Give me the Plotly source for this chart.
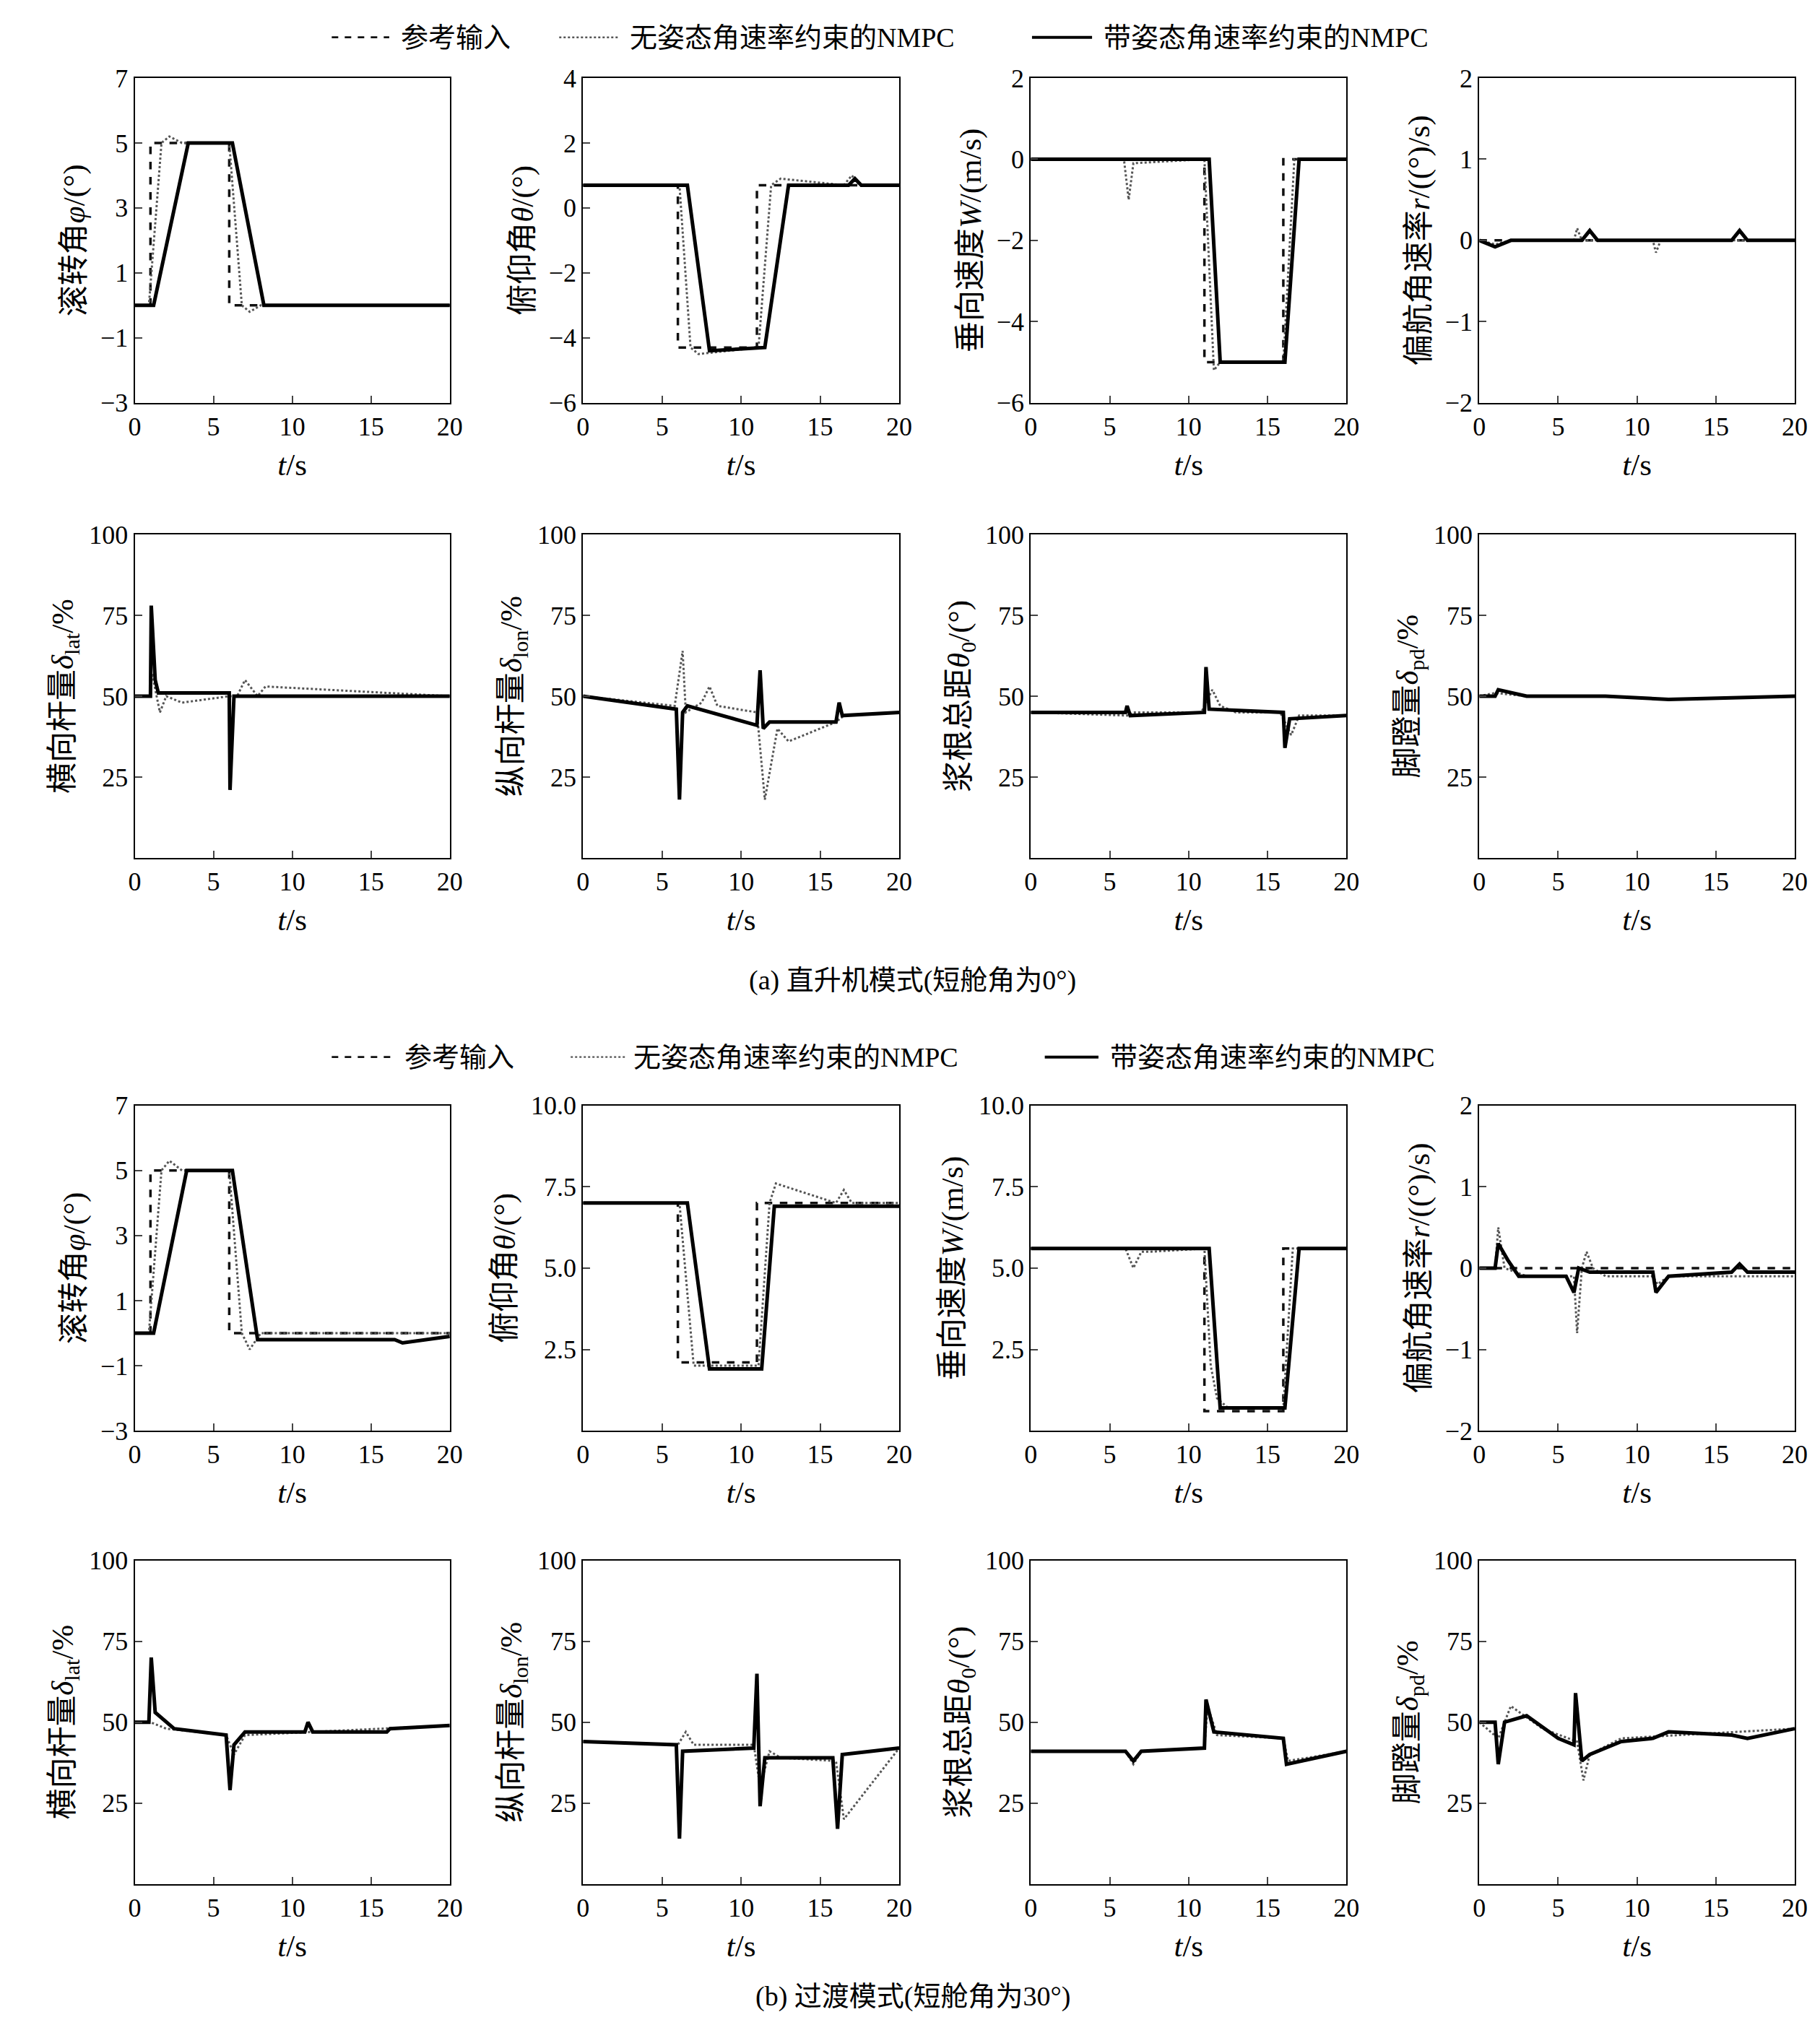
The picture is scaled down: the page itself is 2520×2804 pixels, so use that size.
import plotly.graph_objects as go
from plotly.subplots import make_subplots

# ---- data: breakpoints (t in s) ----
# (a) helicopter mode
a_roll_ref_t = [0, 1, 1, 6, 6, 20];            a_roll_ref = [0, 0, 5, 5, 0, 0]
a_roll_nc_t = [0, 0.9, 1.7, 2.2, 3, 6, 6.8, 7.3, 8, 20]; a_roll_nc = [0, 0, 5, 5.2, 5, 5, 0, -0.2, 0, 0]
a_roll_c_t = [0, 1.2, 3.4, 6.2, 8.2, 20];      a_roll_c = [0, 0, 5, 5, 0, 0]

a_pitch_ref_t = [0, 6, 6, 11, 11, 20];         a_pitch_ref = [0.7, 0.7, -4.3, -4.3, 0.7, 0.7]
a_pitch_nc_t = [0, 6.1, 6.8, 7.3, 11.1, 11.9, 12.5, 16.5, 17, 17.5, 20]
a_pitch_nc = [0.7, 0.7, -4.3, -4.5, -4.3, 0.7, 0.9, 0.7, 1.0, 0.7, 0.7]
a_pitch_c_t = [0, 6.6, 8, 11.5, 13, 16.8, 17.2, 17.6, 20]
a_pitch_c = [0.7, 0.7, -4.4, -4.3, 0.7, 0.7, 0.9, 0.7, 0.7]

a_w_ref_t = [0, 11, 11, 16, 16, 20];           a_w_ref = [0, 0, -5, -5, 0, 0]
a_w_nc_t = [0, 5.9, 6.2, 6.5, 11, 11.6, 12, 16, 16.7, 20]
a_w_nc = [0, 0, -1.0, -0.1, 0, -5.2, -5, -5, 0, 0]
a_w_c_t = [0, 11.3, 12, 16.1, 17, 20];         a_w_c = [0, 0, -5, -5, 0, 0]

a_r_ref_t = [0, 20];                           a_r_ref = [0, 0]
a_r_nc_t = [0, 1, 2, 6, 6.2, 6.5, 11, 11.2, 11.5, 16, 20]
a_r_nc = [0, -0.05, 0, 0, 0.15, 0, 0, -0.15, 0, 0, 0]
a_r_c_t = [0, 1, 2, 6.5, 7, 7.5, 16, 16.5, 17, 20]
a_r_c = [0, -0.08, 0, 0, 0.12, 0, 0, 0.12, 0, 0]

a_lat_nc_t = [0, 1, 1.1, 1.6, 2, 3, 6, 6.5, 7, 7.8, 8.3, 20]
a_lat_nc = [50, 50, 57, 45, 50, 48, 50, 50, 55, 50, 53, 50]
a_lat_c_t = [0, 1, 1.05, 1.3, 1.5, 6, 6.05, 6.2, 6.3, 20]
a_lat_c = [50, 50, 78, 55, 51, 51, 21, 42, 50, 50]

a_lon_nc_t = [0, 5.8, 6.3, 6.5, 7.5, 8, 8.5, 11, 11.5, 12.3, 13, 16, 16.5, 20]
a_lon_nc = [50, 47, 64, 45, 48, 53, 47, 45, 18, 40, 36, 42, 44, 45]
a_lon_c_t = [0, 5.9, 6.1, 6.3, 6.6, 11, 11.2, 11.4, 11.8, 16, 16.2, 16.4, 20]
a_lon_c = [50, 46, 18, 45, 47, 41, 58, 40, 42, 42, 48, 44, 45]

a_col_nc_t = [0, 6.2, 6.5, 10.8, 11.5, 12, 13, 15.8, 16.5, 17, 20]
a_col_nc = [45, 44, 45, 45, 52, 47, 45, 45, 38, 44, 44]
a_col_c_t = [0, 6, 6.1, 6.3, 11, 11.1, 11.3, 16, 16.1, 16.4, 20]
a_col_c = [45, 45, 47, 44, 45, 59, 46, 45, 34, 43, 44]

a_ped_nc_t = [0, 1, 3, 8, 12, 20];             a_ped_nc = [50, 51, 50, 50, 49, 50]
a_ped_c_t = [0, 1, 1.2, 3, 8, 12, 20];         a_ped_c = [50, 50, 52, 50, 50, 49, 50]

# (b) transition mode
b_roll_ref_t = [0, 1, 1, 6, 6, 20];            b_roll_ref = [0, 0, 5, 5, 0, 0]
b_roll_nc_t = [0, 0.9, 1.7, 2.2, 3, 6, 6.8, 7.3, 8, 20]
b_roll_nc = [0, 0, 5, 5.3, 5, 5, 0, -0.5, 0, 0]
b_roll_c_t = [0, 1.2, 3.3, 6.2, 7.8, 16.5, 17, 20]
b_roll_c = [0, 0, 5, 5, -0.2, -0.2, -0.3, -0.1]

b_pitch_ref_t = [0, 6, 6, 11, 11, 20];         b_pitch_ref = [7, 7, 2.1, 2.1, 7, 7]
b_pitch_nc_t = [0, 6.1, 7, 11.1, 11.8, 12.2, 16, 16.5, 17, 20]
b_pitch_nc = [7, 7, 2, 2, 7, 7.6, 7, 7.4, 7, 7]
b_pitch_c_t = [0, 6.6, 8, 11.3, 12.1, 20];     b_pitch_c = [7, 7, 1.9, 1.9, 6.9, 6.9]

b_w_ref_t = [0, 11, 11, 16, 16, 20];           b_w_ref = [5.6, 5.6, 0.6, 0.6, 5.6, 5.6]
b_w_nc_t = [0, 6, 6.5, 7, 7.5, 11, 11.4, 11.8, 12.5, 16, 16.6, 20]
b_w_nc = [5.6, 5.6, 5, 5.5, 5.5, 5.6, 2, 1, 0.7, 0.7, 5.6, 5.6]
b_w_c_t = [0, 11.3, 12, 16.1, 17, 20];         b_w_c = [5.6, 5.6, 0.7, 0.7, 5.6, 5.6]

b_r_ref_t = [0, 20];                           b_r_ref = [0, 0]
b_r_nc_t = [0, 1, 1.2, 1.6, 3, 6, 6.2, 6.5, 6.8, 7.2, 8, 11, 11.3, 12, 20]
b_r_nc = [0, 0, 0.5, 0, -0.1, -0.1, -0.8, 0, 0.2, 0, -0.1, -0.1, -0.2, -0.1, -0.1]
b_r_c_t = [0, 1, 1.2, 1.8, 2.5, 5.5, 6, 6.3, 7, 11, 11.2, 12, 16, 16.5, 17, 20]
b_r_c = [0, 0, 0.3, 0.1, -0.1, -0.1, -0.3, 0, -0.05, -0.05, -0.3, -0.1, -0.05, 0.05, -0.05, -0.05]

b_lat_nc_t = [0, 1, 2, 5.8, 6.3, 7, 20];       b_lat_nc = [50, 50, 48, 46, 40, 46, 49]
b_lat_c_t = [0, 0.9, 1.05, 1.3, 2.5, 5.8, 6.05, 6.3, 7, 10.8, 11, 11.3, 16, 16.2, 20]
b_lat_c = [50, 50, 70, 53, 48, 46, 29, 43, 47, 47, 50, 47, 47, 48, 49]

b_lon_nc_t = [0, 6, 6.5, 7, 10.8, 11.2, 11.8, 12.5, 16, 16.5, 20]
b_lon_nc = [44, 43, 47, 43, 43, 30, 41, 39, 38, 20, 42]
b_lon_c_t = [0, 5.9, 6.1, 6.3, 10.8, 11, 11.2, 11.5, 15.8, 16.1, 16.4, 20]
b_lon_c = [44, 43, 14, 41, 42, 65, 24, 39, 39, 17, 40, 42]

b_col_nc_t = [0, 6, 6.5, 7, 11, 11.2, 11.8, 16, 16.3, 20]
b_col_nc = [41, 41, 37, 41, 42, 55, 46, 45, 38, 41]
b_col_c_t = [0, 6, 6.5, 7, 11, 11.1, 11.6, 16, 16.2, 20]
b_col_c = [41, 41, 38, 41, 42, 57, 47, 45, 37, 41]

b_ped_nc_t = [0, 1.2, 2, 4, 6.2, 6.6, 7, 9, 20]
b_ped_nc = [50, 45, 55, 48, 44, 32, 40, 45, 48]
b_ped_c_t = [0, 1, 1.2, 1.6, 3, 5, 6, 6.1, 6.5, 7, 9, 11, 12, 16, 17, 20]
b_ped_c = [50, 50, 37, 50, 52, 45, 43, 59, 38, 40, 44, 45, 47, 46, 45, 48]

ylabels_state = ["滚转角<i>φ</i>/(°)", "俯仰角<i>θ</i>/(°)", "垂向速度<i>W</i>/(m/s)", "偏航角速率<i>r</i>/((°)/s)"]
ylabels_ctrl = ["横向杆量<i>δ</i><sub>lat</sub>/%", "纵向杆量<i>δ</i><sub>lon</sub>/%",
                "浆根总距<i>θ</i><sub>0</sub>/(°)", "脚蹬量<i>δ</i><sub>pd</sub>/%"]
legend_names = ["参考输入", "无姿态角速率约束的NMPC", "带姿态角速率约束的NMPC"]

panels = [
    (1, 1, [(a_roll_ref_t, a_roll_ref), (a_roll_nc_t, a_roll_nc), (a_roll_c_t, a_roll_c)], [-3, 7], [-3, -1, 1, 3, 5, 7], None),
    (1, 2, [(a_pitch_ref_t, a_pitch_ref), (a_pitch_nc_t, a_pitch_nc), (a_pitch_c_t, a_pitch_c)], [-6, 4], [-6, -4, -2, 0, 2, 4], None),
    (1, 3, [(a_w_ref_t, a_w_ref), (a_w_nc_t, a_w_nc), (a_w_c_t, a_w_c)], [-6, 2], [-6, -4, -2, 0, 2], None),
    (1, 4, [(a_r_ref_t, a_r_ref), (a_r_nc_t, a_r_nc), (a_r_c_t, a_r_c)], [-2, 2], [-2, -1, 0, 1, 2], None),
    (2, 1, [None, (a_lat_nc_t, a_lat_nc), (a_lat_c_t, a_lat_c)], [0, 100], [25, 50, 75, 100], None),
    (2, 2, [None, (a_lon_nc_t, a_lon_nc), (a_lon_c_t, a_lon_c)], [0, 100], [25, 50, 75, 100], None),
    (2, 3, [None, (a_col_nc_t, a_col_nc), (a_col_c_t, a_col_c)], [0, 100], [25, 50, 75, 100], None),
    (2, 4, [None, (a_ped_nc_t, a_ped_nc), (a_ped_c_t, a_ped_c)], [0, 100], [25, 50, 75, 100], None),
    (3, 1, [(b_roll_ref_t, b_roll_ref), (b_roll_nc_t, b_roll_nc), (b_roll_c_t, b_roll_c)], [-3, 7], [-3, -1, 1, 3, 5, 7], None),
    (3, 2, [(b_pitch_ref_t, b_pitch_ref), (b_pitch_nc_t, b_pitch_nc), (b_pitch_c_t, b_pitch_c)], [0, 10], [2.5, 5, 7.5, 10], ["2.5", "5.0", "7.5", "10.0"]),
    (3, 3, [(b_w_ref_t, b_w_ref), (b_w_nc_t, b_w_nc), (b_w_c_t, b_w_c)], [0, 10], [2.5, 5, 7.5, 10], ["2.5", "5.0", "7.5", "10.0"]),
    (3, 4, [(b_r_ref_t, b_r_ref), (b_r_nc_t, b_r_nc), (b_r_c_t, b_r_c)], [-2, 2], [-2, -1, 0, 1, 2], None),
    (4, 1, [None, (b_lat_nc_t, b_lat_nc), (b_lat_c_t, b_lat_c)], [0, 100], [25, 50, 75, 100], None),
    (4, 2, [None, (b_lon_nc_t, b_lon_nc), (b_lon_c_t, b_lon_c)], [0, 100], [25, 50, 75, 100], None),
    (4, 3, [None, (b_col_nc_t, b_col_nc), (b_col_c_t, b_col_c)], [0, 100], [25, 50, 75, 100], None),
    (4, 4, [None, (b_ped_nc_t, b_ped_nc), (b_ped_c_t, b_ped_c)], [0, 100], [25, 50, 75, 100], None),
]

FONT = "Liberation Serif, Noto Sans CJK SC"
FS = 36
styles = [dict(color="#111", width=3.5, dash="dash"),
          dict(color="#555", width=3, dash="dot"),
          dict(color="#000", width=5, dash="solid")]

fig = make_subplots(rows=4, cols=4)

xdom = [(0.068, 0.243), (0.317, 0.4926), (0.5657, 0.741), (0.8148, 0.990)]
ydom = [(0.808, 0.9707), (0.580, 0.742), (0.293, 0.456), (0.066, 0.228)]

for r, c, series, yr, tv, tt in panels:
    for k, s in enumerate(series):
        if s is None:
            continue
        fig.add_trace(go.Scatter(x=s[0], y=s[1], mode="lines", line=styles[k],
                                 showlegend=False), row=r, col=c)
    ylab = ylabels_state[c - 1] if r in (1, 3) else ylabels_ctrl[c - 1]
    fig.update_xaxes(row=r, col=c, domain=xdom[c - 1], range=[0, 20], tickvals=[0, 5, 10, 15, 20],
                     title=dict(text="<i>t</i>/s", standoff=18), showgrid=False, zeroline=False)
    fig.update_yaxes(row=r, col=c, domain=ydom[r - 1], range=yr, tickvals=tv, ticktext=tt,
                     title=dict(text=ylab, standoff=8), showgrid=False, zeroline=False)

fig.update_xaxes(showline=True, mirror=True, linecolor="black", linewidth=2, ticks="inside",
                 ticklen=10, tickwidth=2, tickfont=dict(size=FS))
fig.update_yaxes(showline=True, mirror=True, linecolor="black", linewidth=2, ticks="inside",
                 ticklen=10, tickwidth=2, tickfont=dict(size=FS))

W, H = 2520, 2804
def add_legend(ypix, segs):
    for k, (x0, x1, xt) in enumerate(segs):
        fig.add_shape(type="line", xref="paper", yref="paper", x0=x0 / 1409, x1=x1 / 1409,
                      y0=1 - ypix / 1568, y1=1 - ypix / 1568,
                      line=dict(color=styles[k]["color"], width=styles[k]["width"] * 0.8, dash=styles[k]["dash"]))
        fig.add_annotation(xref="paper", yref="paper", x=xt / 1409, y=1 - ypix / 1568,
                           text=legend_names[k], showarrow=False, xanchor="left", yanchor="middle",
                           font=dict(size=FS + 2))

add_legend(14, [(250, 295, 303), (428, 475, 482), (798, 845, 853)])
add_legend(815, [(250, 298, 306), (437, 480, 485), (808, 850, 858)])

fig.add_annotation(xref="paper", yref="paper", x=0.5, y=1 - 755 / 1568, text="(a) 直升机模式(短舱角为0°)",
                   showarrow=False, font=dict(size=FS + 2), yanchor="middle")
fig.add_annotation(xref="paper", yref="paper", x=0.5, y=1 - 1553 / 1568, text="(b) 过渡模式(短舱角为30°)",
                   showarrow=False, font=dict(size=FS + 2), yanchor="middle")

fig.update_layout(width=W, height=H, margin=dict(l=0, r=0, t=0, b=0),
                  plot_bgcolor="white", paper_bgcolor="white",
                  font=dict(family=FONT, size=FS, color="black"))

fig.write_html("out.html")
